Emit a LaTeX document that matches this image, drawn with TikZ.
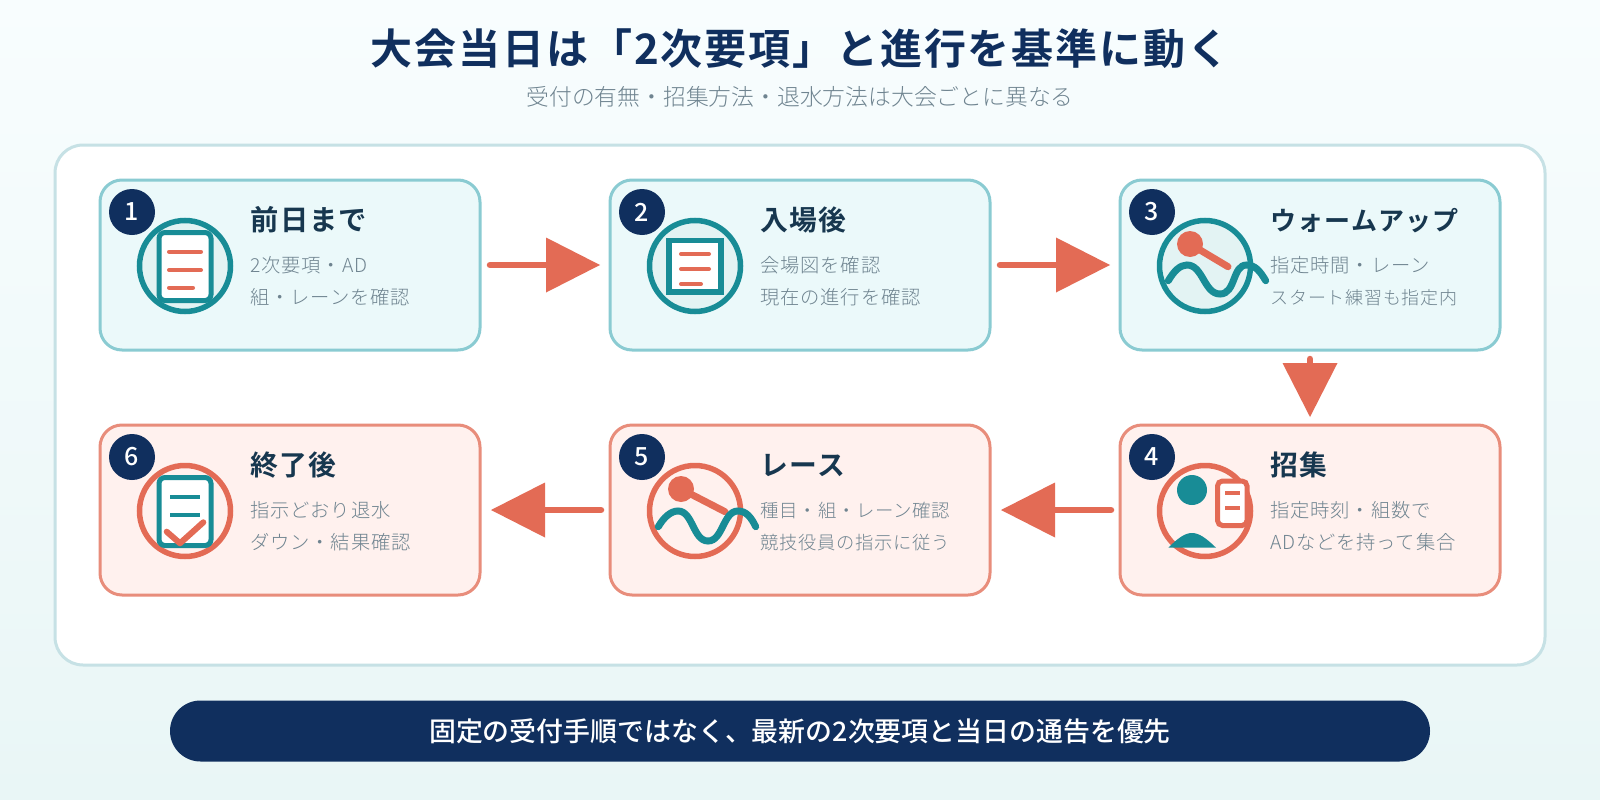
\documentclass[tikz,border=0pt]{standalone}
\usepackage{fontspec}
\usetikzlibrary{arrows.meta}
\newfontfamily\jptitle[LetterSpace=4.5,UprightFont={* Medium},BoldFont={* Bold}]{Noto Sans CJK JP}
\newfontfamily\jp[UprightFont={* Medium},BoldFont={* Bold}]{Noto Sans CJK JP}
\newfontfamily\jpc[LetterSpace=4,UprightFont={* Medium},BoldFont={* Bold}]{Noto Sans CJK JP}
\newfontfamily\jpl[LetterSpace=4,UprightFont={* Light}]{Noto Sans CJK JP}
\newfontfamily\jplb[UprightFont={* Light}]{Noto Sans CJK JP}
\definecolor{navy}{HTML}{102F5E}
\definecolor{teal1}{HTML}{188C96}
\definecolor{coral}{HTML}{E36B55}
\definecolor{inkc}{HTML}{17374F}
\definecolor{greyc}{HTML}{6F8490}
\definecolor{bluefill}{HTML}{EBF9FA}
\definecolor{bluedge}{HTML}{8ACBD2}
\definecolor{redfill}{HTML}{FFF1EE}
\definecolor{rededge}{HTML}{E88D7B}
\definecolor{iconfill}{HTML}{E3F3F3}
\definecolor{paneledge}{HTML}{C6E1E5}
\definecolor{bgtop}{HTML}{F8FDFE}
\definecolor{bgbottom}{HTML}{E9F6F6}
\tikzset{
  cardbase/.style={draw,line width=3pt,rounded corners=22pt,minimum width=380pt,minimum height=170pt,outer sep=0pt,inner sep=0pt},
  bluecard/.style={cardbase,fill=bluefill,draw=bluedge},
  redcard/.style={cardbase,fill=redfill,draw=rededge},
  numdot/.style={circle,fill=navy,minimum size=46pt,inner sep=0pt,text=white,font=\jp\fontsize{25}{25}\selectfont},
  headtxt/.style={anchor=base west,inner sep=0pt,text=inkc,font=\jpc\bfseries\fontsize{27.8}{27.8}\selectfont},
  bodytxt/.style={anchor=base west,inner sep=0pt,text=greyc,font=\jpl\fontsize{19.3}{19.3}\selectfont},
  flow/.style={draw=coral,line width=6.5pt,line cap=round,
     -{Triangle[length=54pt,width=55pt,line width=0pt,fill=coral]}},
  flowr/.style={flow,shorten <=10pt,shorten >=10pt},
  flowd/.style={flow,shorten <=9pt,shorten >=8pt},
  flowl/.style={flow,shorten <=9pt,shorten >=11pt},
  ringt/.style={draw=teal1,line width=5.5pt,fill=iconfill},
  ringr/.style={draw=coral,line width=5.5pt},
  ln/.style={line width=4pt,line cap=round},
  wavy/.style={draw=teal1,line width=7pt,line cap=round},
  stick/.style={draw=coral,line width=7pt,line cap=round},
}
\newcommand{\stepcard}[8]{%
  \node[#4] (card#1) at (#2,#3) {};
  \node[headtxt] (head#1) at (#2-39.5,#3-35) {#6};
  \node[bodytxt] (lineA#1) at (#2-39.5,#3+7) {#7};
  \node[bodytxt] (lineB#1) at (#2-39.5,#3+39) {#8};
}
\newcommand{\stepnum}[4]{\node[numdot] (num#1) at (#2-158,#3-53) {#4};}
\newcommand{\fsz}[1]{\fontsize{#1}{#1}\selectfont}
\begin{document}
\begin{tikzpicture}[x=1pt,y=-1pt]
\useasboundingbox (0,0) rectangle (1600,800);
\path[top color=bgtop,bottom color=bgbottom] (0,0) rectangle (1600,800);
\node[text=navy,font=\jptitle\bfseries\fontsize{42}{42}\selectfont,inner sep=0pt] (maintitle) at (800,49) {大会当日は「2次要項」と進行を基準に動く};
\node[text=greyc,font=\jplb\fontsize{22.8}{22.8}\selectfont,inner sep=0pt] (subtitle) at (800,97) {受付の有無・招集方法・退水方法は大会ごとに異なる};
\node[fill=white,draw=paneledge,line width=3pt,rounded corners=28pt,minimum width=1490pt,minimum height=520pt,outer sep=0pt] (panel) at (800,405) {};
\stepcard{1}{290}{265}{bluecard}{1}{\fsz{28.3}前日まで}{2次要項・AD}{組・レーンを確認}
\stepcard{2}{800}{265}{bluecard}{2}{入場後}{会場図を確認}{現在の進行を確認}
\stepcard{3}{1310}{265}{bluecard}{3}{\fsz{26}ウォームアップ}{指定時間・レーン}{\fsz{18}スタート練習も指定内}
\stepcard{4}{1310}{510}{redcard}{4}{招集}{指定時刻・組数で}{ADなどを持って集合}
\stepcard{5}{800}{510}{redcard}{5}{レース}{\fsz{18.4}種目・組・レーン確認}{\fsz{18.3}競技役員の指示に従う}
\stepcard{6}{290}{510}{redcard}{6}{終了後}{指示どおり退水}{ダウン・結果確認}
% icon 1
\draw[ringt] (185,266) circle (45.5);
\draw[draw=teal1,line width=5pt,fill=white,rounded corners=6pt] (159,232.5) rectangle (211,300.5);
\draw[ln,coral] (169,251.7) -- (201,251.7) (169,270) -- (201,270) (169,287.7) -- (193,287.7);
% icon 2
\draw[ringt] (695,266) circle (45.5);
\draw[draw=teal1,line width=5.5pt,fill=white] (669,240.5) rectangle (721,292);
\draw[ln,coral] (681,254) -- (709,254) (681,269) -- (709,269) (681,284) -- (701,284);
% icon 3
\draw[ringt] (1205,266) circle (45.5);
\draw[stick] (1190,244) -- (1228,266.7);
\fill[coral] (1190,244) circle (13);
\draw[wavy] (1168.3,280.7) .. controls (1174,271) and (1180,265) .. (1187,265) .. controls (1203,265) and (1204,294) .. (1220,294) .. controls (1236,294) and (1232,265) .. (1246.7,265) .. controls (1255,265) and (1260,271) .. (1265.7,280.7);
% icon 4
\draw[ringr] (1205,511) circle (45.5);
\fill[teal1] (1192,490) circle (15);
\fill[teal1] (1168.3,547.7) .. controls (1178,538) and (1185,533) .. (1192,533) .. controls (1199,533) and (1206,538) .. (1216,547.7) -- cycle;
\draw[draw=coral,line width=5pt,fill=white,rounded corners=5pt] (1217.5,481) rectangle (1247,525.5);
\draw[draw=coral,line width=4pt] (1225,493.3) -- (1240,493.3) (1225,507.7) -- (1240,507.7);
% icon 5
\draw[ringr] (695,511) circle (45.5);
\draw[stick] (681,489) -- (725,511.7);
\fill[coral] (681,489) circle (13);
\draw[wavy] (658.3,526.7) .. controls (664,517) and (671,511) .. (678,511) .. controls (693,511) and (693,541) .. (708,541) .. controls (723,541) and (723,511) .. (738,511) .. controls (746,511) and (751,517) .. (755.7,526.7);
% icon 6
\draw[ringr] (185,511) circle (45.5);
\draw[draw=teal1,line width=5pt,fill=white,rounded corners=6pt] (159,477.5) rectangle (211,545.5);
\draw[draw=teal1,line width=4pt] (170,496.7) -- (200,496.7) (170,515) -- (200,515);
\draw[draw=coral,line width=6pt,line cap=round,line join=round] (166.7,531.7) -- (180,543.3) -- (203.3,522.3);
% numbers
\stepnum{1}{290}{265}{1}
\stepnum{2}{800}{265}{2}
\stepnum{3}{1310}{265}{3}
\stepnum{4}{1310}{510}{4}
\stepnum{5}{800}{510}{5}
\stepnum{6}{290}{510}{6}
% connectors
\draw[flowr] (card1) -- (card2);
\draw[flowr] (card2) -- (card3);
\draw[flowd] (card3) -- (card4);
\draw[flowl] (card4) -- (card5);
\draw[flowl] (card5) -- (card6);
% footer
\node[fill=navy,rounded corners=30.5pt,minimum width=1260pt,minimum height=61pt,outer sep=0pt,inner sep=0pt,text=white,font=\jp\fontsize{26.9}{26.9}\selectfont] (footer) at (800,731) {固定の受付手順ではなく、最新の2次要項と当日の通告を優先};
\end{tikzpicture}
\end{document}
